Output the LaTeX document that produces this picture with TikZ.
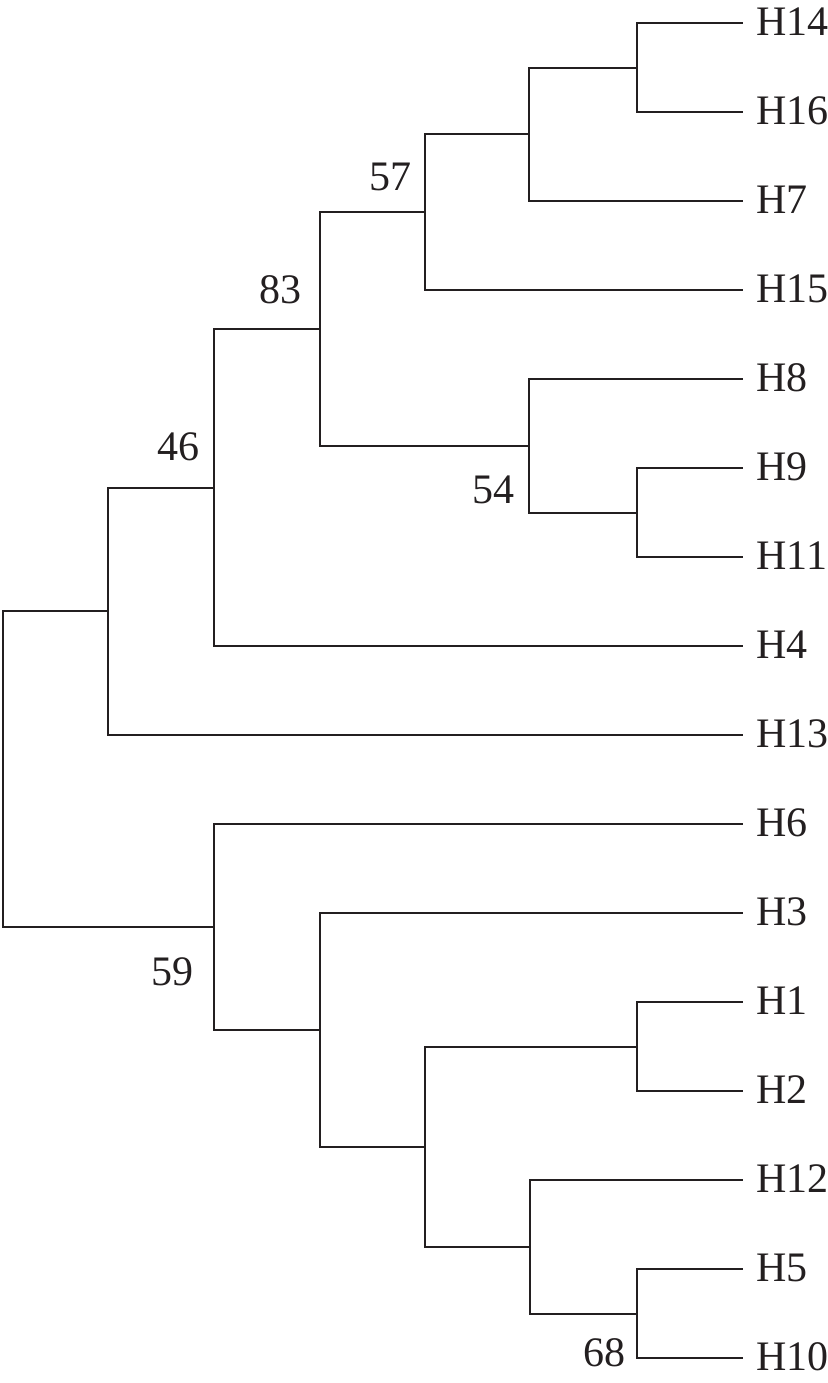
\documentclass[tikz,border=0pt]{standalone}
\usepackage{fontspec}
\setmainfont{Liberation Serif}
\definecolor{ink}{HTML}{231F20}
\begin{document}
\begin{tikzpicture}[x=0.5pt,y=-0.5pt,
  branch/.style={draw=ink,line width=1pt,line cap=rect},
  leaflabel/.style={anchor=west,inner sep=0pt,text=ink,font=\fontsize{21}{24}\selectfont},
  support/.style={inner sep=0pt,text=ink,font=\fontsize{21}{24}\selectfont}]
\useasboundingbox (0,0) rectangle (828,1383);
% leaf ends
\foreach \n/\i in {H14/0,H16/1,H7/2,H15/3,H8/4,H9/5,H11/6,H4/7,H13/8,H6/9,H3/10,H1/11,H2/12,H12/13,H5/14,H10/15}{
  \coordinate (e\n) at (742,{23+89*\i});
  \node[leaflabel] (t\n) at (756,{22+89*\i}) {\n};
}
% internal nodes
\coordinate (A) at (637,67.5);
\coordinate (B) at (529,134.25);
\coordinate (C) at (425,212.1);
\coordinate (D) at (637,512.5);
\coordinate (E) at (529,445.75);
\coordinate (F) at (320,328.9);
\coordinate (G) at (214,487.5);
\coordinate (Hn) at (108,611.2);
\coordinate (I) at (637,1046.5);
\coordinate (J) at (637,1313.5);
\coordinate (K) at (530,1246.75);
\coordinate (L) at (425,1146.6);
\coordinate (M) at (320,1029.8);
\coordinate (N) at (214,926.9);
\coordinate (R) at (3,769);
% branches
\draw[branch] (A) |- (eH14) (A) |- (eH16);
\draw[branch] (B) |- (A) (B) |- (eH7);
\draw[branch] (C) |- (B) (C) |- (eH15);
\draw[branch] (D) |- (eH9) (D) |- (eH11);
\draw[branch] (E) |- (eH8) (E) |- (D);
\draw[branch] (F) |- (C) (F) |- (E);
\draw[branch] (G) |- (F) (G) |- (eH4);
\draw[branch] (Hn) |- (G) (Hn) |- (eH13);
\draw[branch] (I) |- (eH1) (I) |- (eH2);
\draw[branch] (J) |- (eH5) (J) |- (eH10);
\draw[branch] (K) |- (eH12) (K) |- (J);
\draw[branch] (L) |- (I) (L) |- (K);
\draw[branch] (M) |- (eH3) (M) |- (L);
\draw[branch] (N) |- (eH6) (N) |- (M);
\draw[branch] (R) |- (Hn) (R) |- (N);
% support values
\node[support] (s57) at (390,177) {57};
\node[support] (s83) at (280,290) {83};
\node[support] (s46) at (178,447) {46};
\node[support] (s54) at (493,490) {54};
\node[support] (s59) at (172,972) {59};
\node[support] (s68) at (604,1353) {68};
\end{tikzpicture}
\end{document}
